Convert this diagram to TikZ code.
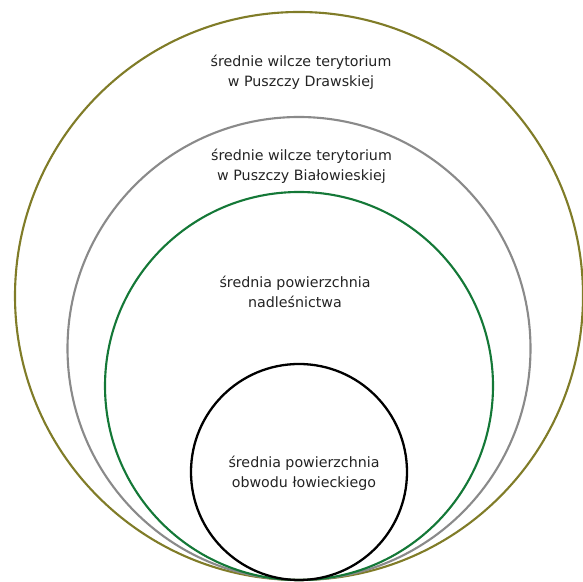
\documentclass[tikz,border=0pt]{standalone}
\usepackage{fontspec}
\setmainfont{DejaVu Sans}
\definecolor{olivering}{RGB}{128,124,40}
\definecolor{grayring}{RGB}{138,138,138}
\definecolor{greenring}{RGB}{20,120,55}
\definecolor{labeltext}{RGB}{35,35,35}
\tikzset{
  ring/.style={line width=1.2pt},
  label text/.style={align=center, text=labeltext, font=\fontsize{8.1}{11.2}\selectfont}
}
\begin{document}
\begin{tikzpicture}
   \useasboundingbox (0,0) rectangle (11.66,11.64);
   \def\X{5.98}
   \def\Y{0.04}

        % rings, all touching at the bottom
        \draw [ring, olivering] (\X, \Y + 5.68) circle (5.68);
        \draw [ring, grayring] (\X, \Y + 4.63) circle (4.63);
        \draw [ring, greenring] (\X, \Y + 3.88) circle (3.88);
        \draw [ring, black, line width=1.3pt] (\X, \Y + 2.16) circle (2.16);
        % labels
        \node [label text] (drawska) at (6.02, 10.19) {średnie wilcze terytorium\\w Puszczy Drawskiej};
        \node [label text] (bialowieza) at (6.03, 8.31) {średnie wilcze terytorium\\w Puszczy Białowieskiej};
        \node [label text] (nadlesnictwo) at (5.90, 5.80) {średnia powierzchnia\\nadleśnictwa};
        \node [label text] (obwod) at (6.08, 2.18) {średnia powierzchnia\\obwodu łowieckiego};
\end{tikzpicture}
\end{document}
